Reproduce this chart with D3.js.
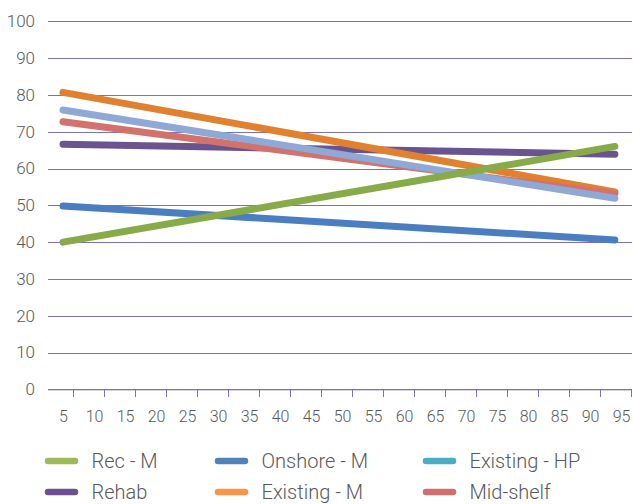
<!DOCTYPE html>
<html>
<head>
<meta charset="utf-8">
<script src="https://cdn.jsdelivr.net/npm/d3@7"></script>
<style>
  html, body { margin: 0; padding: 0; background: #ffffff; }
  svg { display: block; }
  text { font-family: "Roboto", "Liberation Sans", sans-serif; font-weight: 300; fill: #595959; }
</style>
</head>
<body>
<svg id="chart" width="633" height="504"></svg>
<script>
// Series names, in legend order
const seriesNames = ["Rec - M", "Onshore - M", "Existing - HP", "Rehab", "Existing - M", "Mid-shelf"];
// x positions of the two end points of every series
const xValues = [5, 94];
// y values at those positions
const recM        = [40.0, 66.0];
const onshoreM    = [49.8, 40.6];
const existingHP  = [75.9, 51.9];
const rehab       = [66.6, 63.9];
const existingM   = [80.7, 53.6];
const midShelf    = [72.7, 53.1];
// Axis tick labels
const xTickLabels = [5, 10, 15, 20, 25, 30, 35, 40, 45, 50, 55, 60, 65, 70, 75, 80, 85, 90, 95];
const yTickLabels = [0, 10, 20, 30, 40, 50, 60, 70, 80, 90, 100];

// Line and legend colours
const lineColors   = ["#88aa48", "#4a7ec1", "#8fa9d7", "#6a5490", "#e1812f", "#d3716c"];
const legendColors = ["#9bbb59", "#4f81bd", "#4bacc6", "#6c5192", "#f79646", "#d06f6b"];

const seriesValues = [recM, onshoreM, existingHP, rehab, existingM, midShelf];
const series = seriesNames.map((name, i) => ({
  name,
  line: lineColors[i],
  swatch: legendColors[i],
  points: xValues.map((x, j) => ({ x, y: seriesValues[i][j] }))
}));

const svg = d3.select("#chart");
const plotLeft = 48, plotRight = 631, plotTop = 21.3, plotBottom = 389.3;

// x domain spans a little beyond the first and last category labels
const x = d3.scaleLinear().domain([2.58, 96.6]).range([plotLeft, plotRight]);
const y = d3.scaleLinear().domain([0, 100]).range([plotBottom, plotTop]);

const gridColor = "#7b71b9";

// Horizontal gridlines with value labels on the left
const yAxis = d3.axisLeft(y)
  .tickValues(yTickLabels)
  .tickSize(-(plotRight + 1 - plotLeft))
  .tickPadding(13)
  .tickFormat(d3.format("d"));
const gy = svg.append("g").attr("transform", `translate(${plotLeft},0)`).call(yAxis);
gy.select(".domain").remove();
gy.selectAll(".tick line").attr("stroke", gridColor).attr("stroke-width", 1).attr("shape-rendering", "crispEdges");
gy.selectAll(".tick text").style("font-size", "17px").attr("fill", "#595959");

// Bottom axis: tick marks sit between the category labels
const tickMarks = xTickLabels.map(v => v + 1.6);
const gxMarks = svg.append("g").attr("transform", `translate(0,${plotBottom})`)
  .call(d3.axisBottom(x).tickValues(tickMarks).tickSize(8).tickFormat(""));
gxMarks.select(".domain").attr("stroke", gridColor).attr("d", `M${plotLeft},0.5H${plotRight + 1}`);
gxMarks.selectAll(".tick line").attr("stroke", gridColor).attr("shape-rendering", "crispEdges");

const gxLabels = svg.append("g").attr("transform", `translate(0,${plotBottom})`)
  .call(d3.axisBottom(x).tickValues(xTickLabels).tickSize(0).tickPadding(21).tickFormat(d3.format("d")));
gxLabels.select(".domain").remove();
gxLabels.selectAll(".tick text").style("font-size", "16px").attr("fill", "#595959");

// Series lines
const line = d3.line().x(d => x(d.x)).y(d => y(d.y));
const drawOrder = ["Onshore - M", "Rehab", "Existing - M", "Mid-shelf", "Existing - HP", "Rec - M"];
svg.append("g").selectAll("path")
  .data(drawOrder.map(n => series.find(s => s.name === n)))
  .join("path")
  .attr("d", d => line(d.points))
  .attr("fill", "none")
  .attr("stroke", d => d.line)
  .attr("stroke-width", 7)
  .attr("stroke-linecap", "round")
  .attr("stroke-linejoin", "round");

// Legend: three columns, two rows
const colX = [45, 215, 423];
const rowY = [461, 492];
const legend = svg.append("g").selectAll("g")
  .data(series)
  .join("g")
  .attr("transform", (d, i) => `translate(${colX[i % 3]},${rowY[Math.floor(i / 3)]})`);
legend.append("line")
  .attr("x1", 3).attr("x2", 30).attr("y1", 0).attr("y2", 0)
  .attr("stroke", d => d.swatch)
  .attr("stroke-width", 6.5)
  .attr("stroke-linecap", "round");
legend.append("text")
  .attr("x", 46.5)
  .attr("y", 0)
  .attr("dy", "0.36em")
  .style("font-size", "20px")
  .text(d => d.name);
</script>
</body>
</html>
